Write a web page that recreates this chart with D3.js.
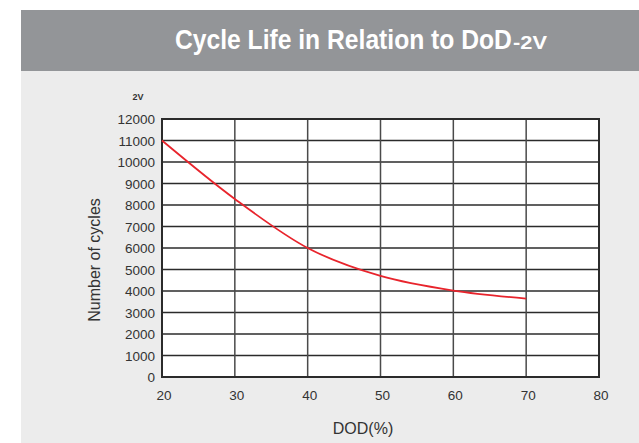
<!DOCTYPE html>
<html>
<head>
<meta charset="utf-8">
<script src="https://cdn.jsdelivr.net/npm/d3@7"></script>
<style>
  body { margin: 0; background: #fff; }
  svg { display: block; }
</style>
</head>
<body>
<script>
// data
var dod = [20, 30, 40, 50, 60, 70];
var cycles = [11000, 8280, 6000, 4700, 4020, 3650];
var xTicks = [20, 30, 40, 50, 60, 70, 80];
var yTicks = [0, 1000, 2000, 3000, 4000, 5000, 6000, 7000, 8000, 9000, 10000, 11000, 12000];

var screen = {width: 639, height: 443};
var plot = {left: 162, top: 119, right: 599, bottom: 377};

var svg = d3.select("body")
            .append("svg")
            .attr("width", screen.width)
            .attr("height", screen.height);

// backgrounds
svg.append("rect")
   .attr("x", 21).attr("y", 70)
   .attr("width", screen.width - 21).attr("height", screen.height - 70)
   .attr("fill", "#ececec");

svg.append("rect")
   .attr("x", 21).attr("y", 10)
   .attr("width", screen.width - 21).attr("height", 61)
   .attr("fill", "#939598");

// title, squeezed horizontally to look like the narrow face of the original
var squeeze = function(sel, x0, width) {
  var natural = sel.node().getComputedTextLength();
  sel.attr("transform", "translate(" + x0 + ",49) scale(" + (width / natural) + ",1)");
}

var title = svg.append("text")
   .attr("fill", "#fff")
   .attr("font-family", "'Liberation Sans', Arial, sans-serif")
   .attr("font-weight", "bold")
   .attr("font-size", "27px")
   .text("Cycle Life in Relation to DoD");
squeeze(title, 175, 337);

var sub = svg.append("text")
   .attr("fill", "#fff")
   .attr("font-family", "'Liberation Sans', Arial, sans-serif")
   .attr("font-weight", "bold")
   .attr("font-size", "19px")
   .text("-2V");
squeeze(sub, 513, 34);

var x = d3.scaleLinear().domain([20, 80]).range([plot.left, plot.right]);
var y = d3.scaleLinear().domain([0, 12000]).range([plot.bottom, plot.top]);

svg.append("rect")
   .attr("x", plot.left).attr("y", plot.top)
   .attr("width", plot.right - plot.left).attr("height", plot.bottom - plot.top)
   .attr("fill", "#fff");

// grid
svg.append("g")
   .selectAll("line")
   .data(yTicks)
   .enter()
   .append("line")
   .attr("x1", plot.left).attr("x2", plot.right)
   .attr("y1", function(d) {return y(d);})
   .attr("y2", function(d) {return y(d);})
   .attr("stroke", "#2b2b2b")
   .attr("stroke-width", 1.5);

svg.append("g")
   .selectAll("line")
   .data(xTicks)
   .enter()
   .append("line")
   .attr("y1", plot.top).attr("y2", plot.bottom)
   .attr("x1", function(d) {return x(d);})
   .attr("x2", function(d) {return x(d);})
   .attr("stroke", "#4a4a4a")
   .attr("stroke-width", 1.5);

svg.append("rect")
   .attr("x", plot.left).attr("y", plot.top)
   .attr("width", plot.right - plot.left).attr("height", plot.bottom - plot.top)
   .attr("fill", "none")
   .attr("stroke", "#2b2b2b")
   .attr("stroke-width", 2);

// tick labels
var font = "'Liberation Sans', Arial, sans-serif";

svg.append("g")
   .selectAll("text")
   .data(yTicks)
   .enter()
   .append("text")
   .attr("x", 155)
   .attr("y", function(d) {return y(d) + 5;})
   .attr("text-anchor", "end")
   .attr("font-family", font)
   .attr("font-size", "13.5px")
   .attr("fill", "#333")
   .text(function(d) {return d;});

svg.append("g")
   .selectAll("text")
   .data(xTicks)
   .enter()
   .append("text")
   .attr("x", function(d) {return x(d) + 2;})
   .attr("y", 400)
   .attr("text-anchor", "middle")
   .attr("font-family", font)
   .attr("font-size", "13.5px")
   .attr("fill", "#333")
   .text(function(d) {return d;});

svg.append("text")
   .attr("x", 363)
   .attr("y", 434)
   .attr("text-anchor", "middle")
   .attr("font-family", font)
   .attr("font-size", "16px")
   .attr("fill", "#333")
   .text("DOD(%)");

svg.append("text")
   .attr("transform", "translate(100,260) rotate(-90)")
   .attr("text-anchor", "middle")
   .attr("font-family", font)
   .attr("font-size", "16px")
   .attr("fill", "#333")
   .text("Number of cycles");

svg.append("text")
   .attr("x", 138)
   .attr("y", 100)
   .attr("text-anchor", "middle")
   .attr("font-family", font)
   .attr("font-weight", "bold")
   .attr("font-size", "9px")
   .attr("fill", "#333")
   .text("2V");

// curve
var line = d3.line()
             .x(function(d, i) {return x(dod[i]);})
             .y(function(d) {return y(d);})
             .curve(d3.curveMonotoneX);

svg.append("path")
   .datum(cycles)
   .attr("d", line)
   .attr("fill", "none")
   .attr("stroke", "#e8242c")
   .attr("stroke-width", 1.8);
</script>
</body>
</html>
